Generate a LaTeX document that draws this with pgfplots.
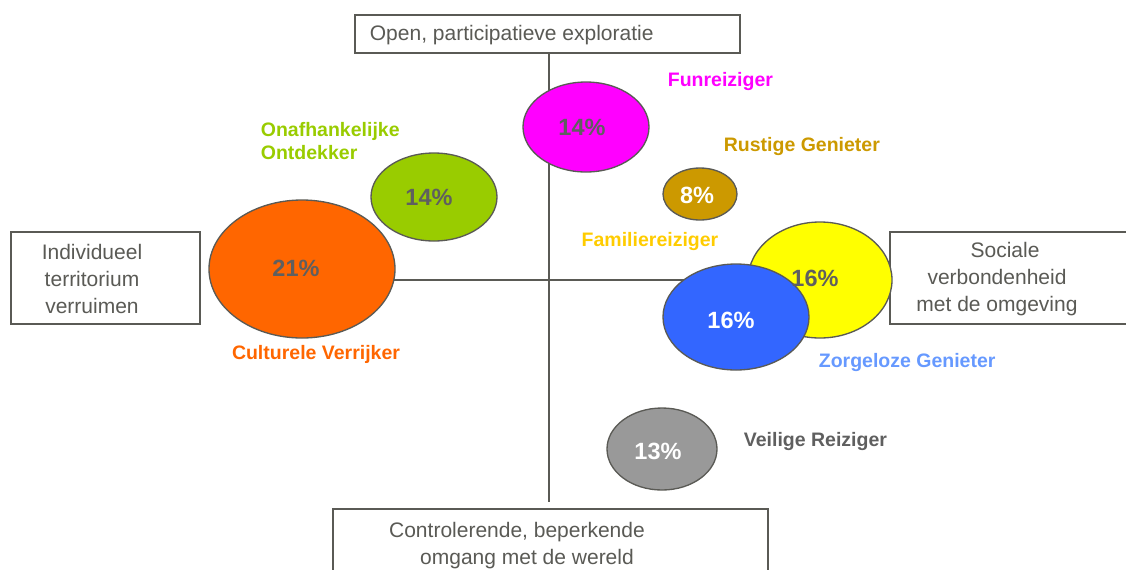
\documentclass[border=0pt]{standalone}
\usepackage{pgfplots}
\pgfplotsset{compat=1.18}
\usepackage{pgfplotstable}
\usepackage{fontspec}
\setmainfont{Liberation Sans}

\definecolor{edge}{HTML}{5A5A55}
\definecolor{txt}{HTML}{5A5A55}
\definecolor{pct}{HTML}{5F5F5F}
\definecolor{cfun}{HTML}{FF00FF}
\definecolor{cond}{HTML}{99CC00}
\definecolor{ccul}{HTML}{FF6600}
\definecolor{crus}{HTML}{CC9900}
\definecolor{cfam}{HTML}{FFFF00}
\definecolor{cfamt}{HTML}{FFCC00}
\definecolor{czor}{HTML}{3366FF}
\definecolor{czort}{HTML}{6699FF}
\definecolor{cvei}{HTML}{999999}

% bubbles in pixel coordinates of the original picture (y downwards)
% w = 100 for a white percentage, 0 for a grey one
\pgfplotstableread{
x   y   rx  ry  cls  lx   ly   val  w
586 127 63  45  fun  582  127  14   0
434 197 63  44  ond  429  197  14   0
302 269 93  69  cul  296  268  21   0
700 194 37  26  rus  697  195  8    100
820 280 72  58  fam  815  278  16   0
736 317 73  53  zor  731  320  16   100
662 449 55  41  vei  658  451  13   100
}\bubbles

\pgfdeclareplotmark{ellip}{%
  \pgfpathellipse{\pgfpointorigin}{\pgfqpoint{\rx pt}{0pt}}{\pgfqpoint{0pt}{\ry pt}}%
  \pgfusepathqfillstroke}

\begin{document}
\begin{tikzpicture}
\begin{axis}[
    x=0.6pt, y=0.6pt,
    xmin=0, xmax=1126, ymin=0, ymax=569,
    y dir=reverse,
    hide axis,
    clip=true,
    font=\fontsize{11.7}{14}\selectfont\bfseries,
    /pgf/number format/assume math mode=true,
]
% full canvas for the bounding box
\path (axis cs:0,0) rectangle (axis cs:1126,569);
% axes of the map
\draw[edge, line width=1.2pt] (axis cs:549,52) -- (axis cs:549,502);
\draw[edge, line width=1.2pt] (axis cs:300,280) -- (axis cs:890,280);

% bubbles
\addplot[scatter, only marks, mark=ellip, draw=edge, line width=0.8pt,
    point meta=explicit symbolic,
    visualization depends on={0.6*\thisrow{rx}\as\rx},
    visualization depends on={0.6*\thisrow{ry}\as\ry},
    scatter/classes={
        fun={mark=ellip, fill=cfun, draw=edge},
        ond={mark=ellip, fill=cond, draw=edge},
        cul={mark=ellip, fill=ccul, draw=edge},
        rus={mark=ellip, fill=crus, draw=edge},
        fam={mark=ellip, fill=cfam, draw=edge},
        zor={mark=ellip, fill=czor, draw=edge},
        vei={mark=ellip, fill=cvei, draw=edge}},
] table[x=x, y=y, meta=cls] {\bubbles};

% percentages
\addplot[only marks, mark=none,
    point meta=\thisrow{val},
    visualization depends on={\thisrow{w}\as\wv},
    nodes near coords={\pgfmathprintnumber{\pgfplotspointmeta}\%},
    every node near coord/.append style={anchor=center, text=white!\wv!pct,
        font=\fontsize{14.1}{16}\selectfont\bfseries},
] table[x=lx, y=ly] {\bubbles};

% segment names
\node[text=cfun, anchor=west] at (axis cs:662,81) {Funreiziger};
\node[text=cond, anchor=west, align=left] at (axis cs:255,141) {Onafhankelijke\\Ontdekker};
\node[text=ccul] at (axis cs:316,354) {Culturele Verrijker};
\node[text=crus, anchor=west] at (axis cs:718,146) {Rustige Genieter};
\node[text=cfamt] at (axis cs:650,241) {Familiereiziger};
\node[text=czort, anchor=west] at (axis cs:813,362) {Zorgeloze Genieter};
\node[text=pct, anchor=west] at (axis cs:738,441) {Veilige Reiziger};

% dimension boxes
\begin{scope}[every node/.style={text=txt, font=\fontsize{12.6}{16.2}\selectfont, align=center}]
\draw[edge, line width=1.2pt, fill=white] (axis cs:355,15) rectangle (axis cs:740,53);
\node[anchor=west] at (axis cs:364,35) {Open, participatieve exploratie};
\draw[edge, line width=1.2pt, fill=white] (axis cs:11,232) rectangle (axis cs:200,324);
\node at (axis cs:92,279) {Individueel\\territorium\\verruimen};
\draw[edge, line width=1.2pt, fill=white] (axis cs:890,232) rectangle (axis cs:1140,324);
\node at (axis cs:997,279) {\hspace*{9.6pt}Sociale\\verbondenheid\\met de omgeving};
\draw[edge, line width=1.2pt, fill=white] (axis cs:333,580) -- (axis cs:333,509) -- (axis cs:768,509) -- (axis cs:768,580);
\node at (axis cs:517,546) {Controlerende, beperkende\\\hspace*{12pt}omgang met de wereld};
\end{scope}
\end{axis}
\end{tikzpicture}
\end{document}
